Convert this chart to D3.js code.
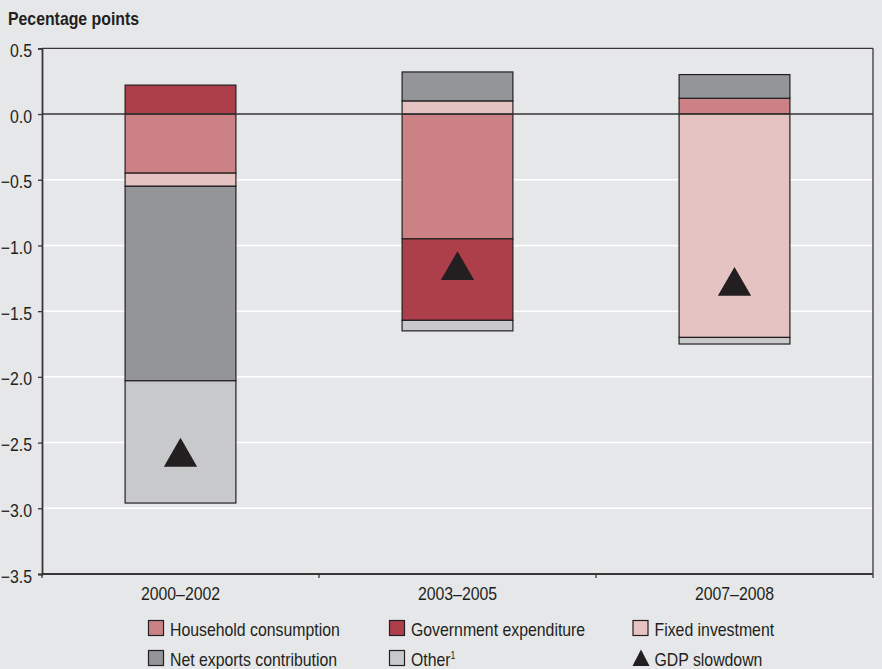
<!DOCTYPE html>
<html>
<head>
<meta charset="utf-8">
<script src="https://cdn.jsdelivr.net/npm/d3@7"></script>
<style>
  html, body { margin: 0; padding: 0; background: #e6e7e8; }
  svg { display: block; }
  text { font-family: "Liberation Sans", Arial, sans-serif; fill: #231f20; }
</style>
</head>
<body>
<svg id="chart" width="882" height="669"></svg>
<script>
// Contributions to GDP slowdown, percentage points
const categories = ["2000–2002", "2003–2005", "2007–2008"];
const household  = [-0.45, -0.95, 0.12];
const government = [0.22, -0.62, 0];
const fixedInv   = [-0.10, 0.10, -1.70];
const netExports = [-1.48, 0.22, 0.18];
const other      = [-0.93, -0.08, -0.05];
const gdpSlowdown = [-2.61, -1.19, -1.31];
const yTicks = [0.5, 0.0, -0.5, -1.0, -1.5, -2.0, -2.5, -3.0, -3.5];

const seriesInfo = [
  { key: "household",  label: "Household consumption",  values: household,  color: "#cc8284" },
  { key: "government", label: "Government expenditure", values: government, color: "#ad3f4a" },
  { key: "fixed",      label: "Fixed investment",       values: fixedInv,   color: "#e6c3c3" },
  { key: "net",        label: "Net exports contribution", values: netExports, color: "#939598" },
  { key: "other",      label: "Other",                  values: other,      color: "#c8c9cb" }
];

const rows = categories.map((c, i) => {
  const r = { category: c };
  seriesInfo.forEach(s => { r[s.key] = s.values[i]; });
  return r;
});

const svg = d3.select("#chart");
const plotLeft = 42, plotRight = 873, plotTop = 48.3, plotBottom = 574;
const ink = "#231f20";
const axisInk = "#3a3536";
// Narrowed lettering: a larger size squeezed horizontally
const fs = 18, squeeze = 0.88;

function narrowText(sel, px, py) {
  return sel.append("text")
    .attr("transform", `translate(${px},${py}) scale(${squeeze},1)`)
    .attr("font-size", fs);
}

const x = d3.scaleBand().domain(categories).range([plotLeft, plotRight])
  .paddingInner(0.6).paddingOuter(0.3);
const y = d3.scaleLinear().domain([-3.5, 0.5]).range([plotBottom, plotTop]);

// Title
narrowText(svg, 8, 25).attr("font-weight", "bold").text("Pecentage points");

// White gridlines
svg.append("g").selectAll("line")
  .data(yTicks.filter(v => v !== 0 && v !== 0.5 && v !== -3.5))
  .join("line")
  .attr("x1", plotLeft).attr("x2", plotRight)
  .attr("y1", d => y(d)).attr("y2", d => y(d))
  .attr("stroke", "#ffffff").attr("stroke-width", 1.5);

// Stacked bars
const stack = d3.stack().keys(seriesInfo.map(s => s.key))
  .offset(d3.stackOffsetDiverging);
const stacked = stack(rows);

svg.append("g").selectAll("g")
  .data(stacked)
  .join("g")
  .attr("fill", (d, i) => seriesInfo[i].color)
  .selectAll("rect")
  .data(d => d.filter(p => p[1] - p[0] !== 0))
  .join("rect")
  .attr("x", d => x(d.data.category))
  .attr("width", x.bandwidth())
  .attr("y", d => y(d[1]))
  .attr("height", d => y(d[0]) - y(d[1]))
  .attr("stroke", ink).attr("stroke-width", 1.2);

// Zero line
svg.append("line")
  .attr("x1", plotLeft).attr("x2", plotRight)
  .attr("y1", y(0)).attr("y2", y(0))
  .attr("stroke", axisInk).attr("stroke-width", 1.5);

// GDP slowdown markers
const tri = d3.symbol().type(d3.symbolTriangle).size(480);
svg.append("g").selectAll("path")
  .data(gdpSlowdown)
  .join("path")
  .attr("d", tri)
  .attr("transform", (d, i) => `translate(${x(categories[i]) + x.bandwidth() / 2},${y(d)})`)
  .attr("fill", ink);

// Frame: top and right edges
svg.append("line").attr("x1", plotLeft).attr("x2", plotRight)
  .attr("y1", plotTop).attr("y2", plotTop)
  .attr("stroke", axisInk).attr("stroke-width", 1.3);
svg.append("line").attr("x1", plotRight).attr("x2", plotRight)
  .attr("y1", plotTop).attr("y2", plotBottom)
  .attr("stroke", axisInk).attr("stroke-width", 1.3);

// Y axis
const yAxis = svg.append("g").attr("transform", `translate(${plotLeft},0)`)
  .call(d3.axisLeft(y).tickValues(yTicks).tickFormat(d3.format(".1f"))
    .tickSize(4).tickPadding(6));
yAxis.select(".domain").attr("stroke", axisInk).attr("stroke-width", 1.8);
yAxis.selectAll(".tick line").attr("stroke", axisInk).attr("stroke-width", 1.3);
yAxis.selectAll(".tick text")
  .attr("font-family", "'Liberation Sans', Arial, sans-serif")
  .attr("font-size", fs).attr("fill", ink)
  .attr("x", -10 / squeeze).attr("dy", "0.45em")
  .attr("transform", `scale(${squeeze},1)`);

// X axis with ticks between categories
const step = x.step();
const bounds = [plotLeft].concat(categories.map(c => x(c) + x.bandwidth() + step * x.paddingInner() / 2));
bounds[bounds.length - 1] = plotRight;
svg.append("line").attr("x1", plotLeft).attr("x2", plotRight)
  .attr("y1", plotBottom).attr("y2", plotBottom)
  .attr("stroke", axisInk).attr("stroke-width", 1.8);
svg.append("g").selectAll("line")
  .data(bounds)
  .join("line")
  .attr("x1", d => d).attr("x2", d => d)
  .attr("y1", plotBottom).attr("y2", plotBottom + 4)
  .attr("stroke", axisInk).attr("stroke-width", 1.3);
svg.append("g").selectAll("text")
  .data(categories)
  .join("text")
  .attr("transform", d => `translate(${x(d) + x.bandwidth() / 2},600) scale(${squeeze},1)`)
  .attr("text-anchor", "middle")
  .attr("font-size", fs)
  .text(d => d);

// Legend
const legendItems = [
  { label: "Household consumption", color: seriesInfo[0].color, col: 0, row: 0 },
  { label: "Government expenditure", color: seriesInfo[1].color, col: 1, row: 0 },
  { label: "Fixed investment", color: seriesInfo[2].color, col: 2, row: 0 },
  { label: "Net exports contribution", color: seriesInfo[3].color, col: 0, row: 1 },
  { label: "Other", sup: "1", color: seriesInfo[4].color, col: 1, row: 1 },
  { label: "GDP slowdown", marker: true, col: 2, row: 1 }
];
const colX = [148, 389, 632.5];
const rowY = [620, 650];
const lg = svg.append("g").selectAll("g")
  .data(legendItems)
  .join("g")
  .attr("transform", d => `translate(${colX[d.col]},${rowY[d.row]})`);
lg.filter(d => !d.marker).append("rect")
  .attr("x", 0.5).attr("y", 0.5).attr("width", 15).attr("height", 15)
  .attr("fill", d => d.color).attr("stroke", ink).attr("stroke-width", 1.2);
lg.filter(d => d.marker).append("path")
  .attr("d", "M0,16 L8.5,-0.5 L17,16 Z").attr("fill", ink);
const lt = lg.append("text")
  .attr("transform", `translate(22,15.5) scale(${squeeze},1)`)
  .attr("font-size", fs)
  .text(d => d.label);
lt.filter(d => d.sup).append("tspan")
  .attr("font-size", 10).attr("dy", -7).text(d => d.sup);
</script>
</body>
</html>
